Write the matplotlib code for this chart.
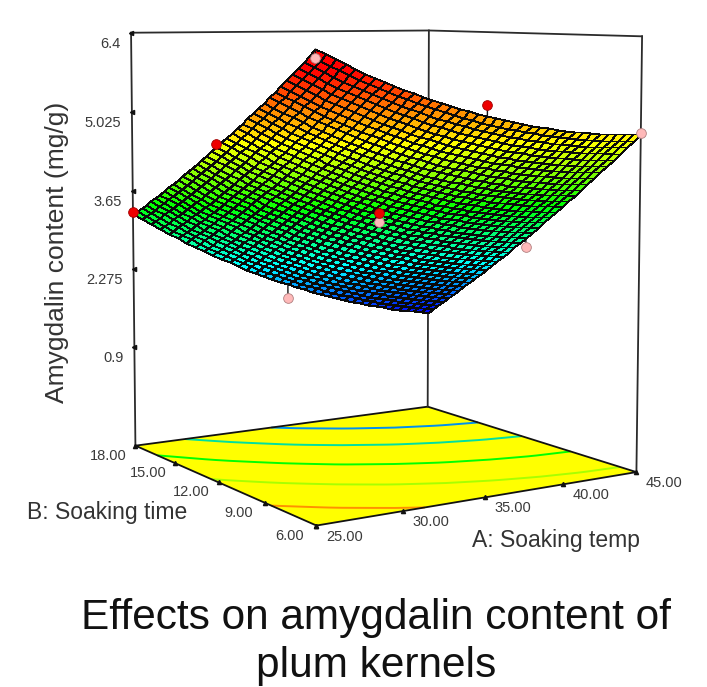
import numpy as np
import matplotlib
matplotlib.use("Agg")
import matplotlib.pyplot as plt
from matplotlib.colors import LinearSegmentedColormap, Normalize

plt.rcParams['font.family'] = ['Liberation Sans', 'DejaVu Sans']

# =================== DATA ===================
temp_grid = [25.0, 27.5, 30.0, 32.5, 35.0, 37.5, 40.0, 42.5, 45.0]
time_grid = [6.0, 7.5, 9.0, 10.5, 12.0, 13.5, 15.0, 16.5, 18.0]
# amygdalin content, rows = time_grid, columns = temp_grid
content = [
    [6.26, 5.92, 5.63, 5.38, 5.18, 5.02, 4.90, 4.82, 4.79],
    [5.82, 5.47, 5.17, 4.91, 4.69, 4.52, 4.39, 4.30, 4.26],
    [5.40, 5.04, 4.73, 4.45, 4.22, 4.04, 3.89, 3.79, 3.74],
    [5.00, 4.63, 4.30, 4.01, 3.77, 3.57, 3.42, 3.30, 3.24],
    [4.62, 4.23, 3.89, 3.59, 3.34, 3.12, 2.96, 2.83, 2.75],
    [4.25, 3.85, 3.50, 3.18, 2.92, 2.69, 2.51, 2.37, 2.28],
    [3.90, 3.48, 3.12, 2.79, 2.51, 2.28, 2.08, 1.93, 1.83],
    [3.56, 3.14, 2.76, 2.42, 2.13, 1.88, 1.67, 1.51, 1.39],
    [3.24, 2.80, 2.41, 2.06, 1.76, 1.50, 1.28, 1.10, 0.97],
]
# design points above the surface (red) and below it (pink)
above_temp = [25, 25, 35, 35]
above_time = [18, 12, 12, 6]
above_val = [3.28, 4.67, 3.37, 5.36]
below_temp = [25, 35, 35, 45, 45]
below_time = [6, 18, 12, 12, 6]
below_val = [6.13, 1.51, 3.22, 2.58, 4.81]

contour_levels = [1.9, 2.7, 3.6, 4.5, 5.5]
contour_colors = ["#0090f0", "#00e0a0", "#00ff00", "#a8ff00", "#ff9000"]
z_ticks = [0.9, 2.275, 3.65, 5.025, 6.4]
z_tick_labels = ["0.9", "2.275", "3.65", "5.025", "6.4"]
temp_ticks = [25, 30, 35, 40, 45]
temp_tick_labels = ["25.00", "30.00", "35.00", "40.00", "45.00"]
time_ticks = [6, 9, 12, 15, 18]
time_tick_labels = ["6.00", "9.00", "12.00", "15.00", "18.00"]

# =================== CAMERA ===================
# Perspective view fitted to the box corners: (temp, time, height 0..1) -> pixel
z_floor, z_top = -0.87, 6.4
cam_world = [(0, 0, 0), (1, 0, 0), (0, 1, 0), (1, 1, 0), (0, 1, 1), (1, 1, 1), (1, 0, 1)]
cam_px = [(317, 526), (636, 472), (135, 445), (428, 407), (131, 33), (429, 30.5), (642, 36)]

rows, rhs = [], []
for (a, b, h), (x, y) in zip(cam_world, cam_px):
    rows.append([a, b, h, 1, 0, 0, 0, 0, -x * a, -x * b, -x * h])
    rhs.append(x)
    rows.append([0, 0, 0, 0, a, b, h, 1, -y * a, -y * b, -y * h])
    rhs.append(y)
sol = np.linalg.lstsq(np.array(rows, float), np.array(rhs, float), rcond=None)[0]
cam = np.append(sol, 1).reshape(3, 4)


def project(temp, time, z):
    a = (np.asarray(temp, float) - 25) / 20
    b = (np.asarray(time, float) - 6) / 12
    h = (np.asarray(z, float) - z_floor) / (z_top - z_floor)
    w = cam[2, 0] * a + cam[2, 1] * b + cam[2, 2] * h + cam[2, 3]
    sx = (cam[0, 0] * a + cam[0, 1] * b + cam[0, 2] * h + cam[0, 3]) / w
    sy = (cam[1, 0] * a + cam[1, 1] * b + cam[1, 2] * h + cam[1, 3]) / w
    return sx, sy


# =================== MESH ===================
# The wireframe is finer than the table above, so the table is subdivided only to draw its cells
Z_table = np.array(content)
fine_temp = np.linspace(25, 45, 37)
fine_time = np.linspace(6, 18, 37)
Z_rows = np.array([np.interp(fine_temp, temp_grid, r) for r in Z_table])
Z_fine = np.array([np.interp(fine_time, time_grid, c) for c in Z_rows.T]).T
T_fine, B_fine = np.meshgrid(fine_temp, fine_time)

cmap = LinearSegmentedColormap.from_list(
    "rsm", ["#0000ff", "#00ffff", "#00ff00", "#ffff00", "#ff0000"])
norm = Normalize(Z_table.min(), 5.95)

# =================== FIGURE ===================
fig = plt.figure(figsize=(7.07, 6.87), dpi=100)
ax = fig.add_axes([0, 0, 1, 1])
box_col = "#2b2b2b"
txt_col = "#3a3a3a"

# floor with contours
fx, fy = project([25, 45, 45, 25], [6, 6, 18, 18], [z_floor] * 4)
ax.fill(fx, fy, facecolor="#ffff00", edgecolor="none", zorder=1)
sx, sy = project(T_fine, B_fine, np.full_like(T_fine, z_floor))
ax.contour(sx, sy, Z_fine, levels=contour_levels, colors=contour_colors, linewidths=1.4, zorder=1.5)
ax.plot(fx[[0, 1, 2, 3, 0]], fy[[0, 1, 2, 3, 0]], color="#111111", lw=1.3, zorder=1.6)

# box lines behind the surface
for t, b in [(25, 18), (45, 18), (45, 6)]:
    lx, ly = project([t, t], [b, b], [z_floor, z_top])
    ax.plot(lx, ly, color=box_col, lw=1.3, zorder=2)
lx, ly = project([25, 45, 45], [18, 18, 6], [z_top] * 3)
ax.plot(lx, ly, color=box_col, lw=1.3, zorder=2)

# ticks and labels
for v, lab in zip(z_ticks, z_tick_labels):
    x, y = project(25, 18, v)
    ax.plot([x], [y], marker="<", ms=3, color="#111111", zorder=2)
    ax.text(x - 11, y + 11, lab, ha="right", va="center", fontsize=10.5, color=txt_col)
for v, lab in zip(temp_ticks, temp_tick_labels):
    x, y = project(v, 6, z_floor)
    ax.plot([x], [y], marker="^", ms=3, color="#111111", zorder=2)
    ax.text(x + 28, y + 11, lab, ha="center", va="center", fontsize=10.5, color=txt_col)
for v, lab in zip(time_ticks, time_tick_labels):
    x, y = project(25, v, z_floor)
    ax.plot([x], [y], marker="^", ms=3, color="#111111", zorder=2)
    ax.text(x - 27, y + 10, lab, ha="center", va="center", fontsize=10.5, color=txt_col)

# surface
sx, sy = project(T_fine, B_fine, Z_fine)
Z_cell = (Z_fine[:-1, :-1] + Z_fine[1:, :-1] + Z_fine[:-1, 1:] + Z_fine[1:, 1:]) / 4
ax.pcolormesh(sx, sy, Z_cell, cmap=cmap, norm=norm, shading="flat",
              edgecolors="#0a0a0a", linewidth=0.6, zorder=3)

# design points with stems to the surface
table_at = lambda t, b: np.interp(b, time_grid, [np.interp(t, temp_grid, r) for r in Z_table])
for t, b, v, col, ec in list(zip(below_temp, below_time, below_val, ["#ffb9b9"] * 5, ["#b08080"] * 5)) + \
        list(zip(above_temp, above_time, above_val, ["#ee0000"] * 4, ["#a00000"] * 4)):
    mx, my = project([t, t], [b, b], [table_at(t, b), v])
    ax.plot(mx, my, color="#111111", lw=1, zorder=4)
    ax.plot(mx[1], my[1], "o", ms=7, mfc=col, mec=ec, mew=0.6, zorder=5)

# titles
ax.text(57, 252, "Amygdalin content (mg/g)", rotation=90, ha="center", va="center",
        fontsize=19, color="#333333")
ax.text(107, 513, "B: Soaking time", ha="center", va="center", fontsize=16.5, color="#333333", zorder=6)
ax.text(556, 540, "A: Soaking temp", ha="center", va="center", fontsize=16.5, color="#333333")
ax.text(376, 642, "Effects on amygdalin content of\nplum kernels", ha="center", va="center",
        fontsize=30.5, color="#111111", linespacing=1.28)

ax.set_xlim(0, 707)
ax.set_ylim(687, 0)
ax.axis("off")
fig.savefig("out.png", dpi=100)
